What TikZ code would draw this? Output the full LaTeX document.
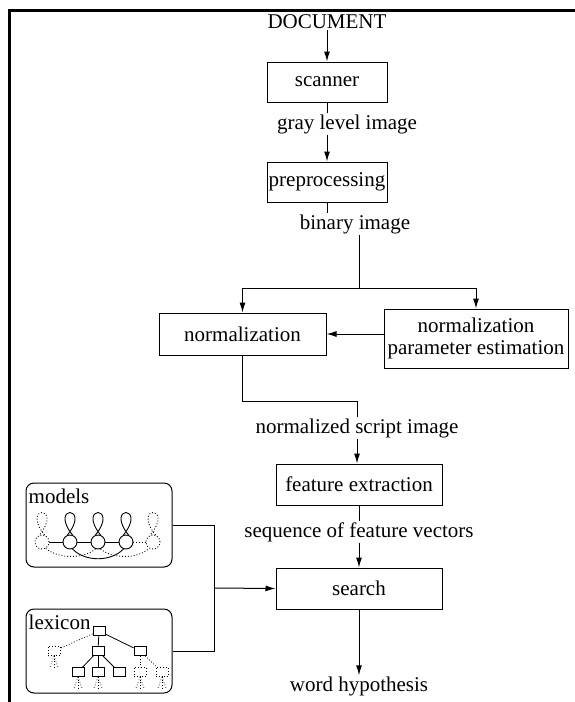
\documentclass[tikz,border=0pt]{standalone}
\usepackage{fontspec}
\setmainfont{Liberation Serif}
\usetikzlibrary{arrows.meta,positioning}
\tikzset{
  every picture/.style={x=1pt,y=-1pt},
  stagebox/.style={draw,line width=1pt,minimum height=40pt,inner sep=0pt},
  flowlabel/.style={inner xsep=2pt,inner ysep=1pt},
  flow/.style={line width=1pt},
  flowarrow/.style={line width=1pt,-{Latex[length=10pt,width=6pt]}},
  knowbox/.style={draw,line width=1pt,rounded corners=8pt,minimum width=146pt,minimum height=84pt},
  hmmstate/.style={circle,draw,line width=0.9pt,minimum size=14pt,inner sep=0pt},
  hmmdot/.style={dotted,line width=0.9pt},
  lexnode/.style={draw,line width=0.8pt,minimum width=12pt,minimum height=9pt,inner sep=0pt},
  lexedge/.style={line width=0.8pt},
  fan/.style={dotted,line width=0.7pt}
}
\begin{document}
\begin{tikzpicture}[font=\fontsize{21}{24}\selectfont]
\useasboundingbox (0,0) rectangle (575,702);
% outer frame
\draw[line width=3pt] (9.5,702) -- (9.5,10.5) -- (580,10.5);

% main processing chain
\node[flowlabel] (doc) at (327,22) {DOCUMENT};
\node[stagebox,minimum width=120pt] (scan) at (327,82) {scanner};
\node[flowlabel] (gray) at (347,124) {gray level image};
\node[stagebox,minimum width=120pt] (prep) at (327,182) {preprocessing};
\node[flowlabel] (bin) at (355,224) {binary image};
\node[stagebox,minimum width=167pt,minimum height=42pt] (norm) at (242.5,334) {normalization};
\node[stagebox,minimum width=184pt,minimum height=59pt,align=center,font=\fontsize{21}{22}\selectfont] (param) at (476,338.5) {normalization\\parameter estimation};
\node[flowlabel] (nsi) at (357,428) {normalized script image};
\node[stagebox,minimum width=166pt,minimum height=41pt] (feat) at (359,484.5) {feature extraction};
\node[flowlabel] (seq) at (359,532) {sequence of feature vectors};
\node[stagebox,minimum width=166pt,minimum height=41pt] (search) at (359,588.5) {search};
\node[flowlabel] (word) at (359,686) {word hypothesis};

\coordinate (split) at (359,288);
\coordinate (bend1) at (242.5,401);
\coordinate (bend2) at (357,401);

\draw[flowarrow] (doc.south -| scan) -- (scan);
\draw[flow] (scan.south) -- (scan.south |- gray.north);
\draw[flowarrow] (gray.south -| prep) -- (prep);
\draw[flow] (prep.south) -- (prep.south |- bin.north);
\draw[flow] (bin.south -| split) -- (split);
\draw[flowarrow] (split) -| (norm.north);
\draw[flowarrow] (split) -| (param.north);
\draw[flowarrow] (param.west |- norm.east) -- (norm.east);
\draw[flow] (norm.south) -- (bend1) -- (bend2) -- (nsi.north);
\draw[flowarrow] (nsi.south) -- (nsi.south |- feat.north);
\draw[flow] (feat) -- (seq);
\draw[flowarrow] (seq) -- (search);
\draw[flowarrow] (search) -- (word);

% knowledge sources
\node[knowbox] (models) at (99,525) {};
\node[anchor=north west,inner sep=0pt] at ([xshift=3pt,yshift=-6pt]models.north west) {models};
\node[knowbox] (lexicon) at (99,651) {};
\node[anchor=north west,inner sep=0pt] (lexlabel) at ([xshift=3pt,yshift=-6pt]lexicon.north west) {lexicon};

\coordinate (join) at (214,588);
\draw[flow] (models.east) -- (models.east -| join) -- (lexicon.east -| join) -- (lexicon.east);
\draw[flowarrow] (join) -- (search.west);

% hidden Markov model: states, self loops and transitions
\foreach \i/\xx in {1/42,2/70,3/98,4/126,5/153}{
  \coordinate (q\i) at (\xx,542);
}
\node[hmmstate,dotted] (s1) at (q1) {};
\node[hmmstate] (s2) at (q2) {};
\node[hmmstate] (s3) at (q3) {};
\node[hmmstate] (s4) at (q4) {};
\node[hmmstate,dotted] (s5) at (q5) {};
\foreach \s in {s2,s3,s4}{
  \draw[line width=0.9pt] (\s.70) .. controls ++(-24,-30) and ++(24,-30) .. (\s.110);
}
\foreach \s in {s1,s5}{
  \draw[hmmdot] (\s.70) .. controls ++(-24,-30) and ++(24,-30) .. (\s.110);
}
\draw[line width=0.9pt] (s1) -- (s2) -- (s3) -- (s4);
\draw[hmmdot] (s4) -- (s5);
\draw[hmmdot] (s1.-60) .. controls (60,560) and (85,558) .. (s3.-110);
\draw[hmmdot] (s3.-70) .. controls (111,558) and (136,560) .. (s5.-120);
\draw[line width=0.9pt] (s2.-70) .. controls (85,562) and (111,562) .. (s4.-110);

% lexicon tree
\node[lexnode] (r) at (99,631) {};
\node[lexnode,dotted] (a) at (54,651) {};
\node[lexnode] (b) at (98,651) {};
\node[lexnode] (c) at (140,651) {};
\node[lexnode] (b1) at (78,672) {};
\node[lexnode] (b2) at (98,672) {};
\node[lexnode] (b3) at (119,672) {};
\node[lexnode,dotted] (c1) at (140,672) {};
\node[lexnode,dotted] (c2) at (162,672) {};
\draw[lexedge,dotted] (r) -- (a);
\draw[lexedge] (r) -- (b);
\draw[lexedge] (r) -- (c);
\draw[lexedge] (b) -- (b1);
\draw[lexedge] (b) -- (b2);
\draw[lexedge] (b) -- (b3);
\draw[lexedge,dotted] (c) -- (c1);
\draw[lexedge,dotted] (c) -- (c2);
\foreach \n in {a,b1,b2,c1,c2}{
  \draw[fan] (\n.south) -- ++(-4,11);
  \draw[fan] (\n.south) -- ++(0,11);
  \draw[fan] (\n.south) -- ++(4,11);
}
\end{tikzpicture}
\end{document}
